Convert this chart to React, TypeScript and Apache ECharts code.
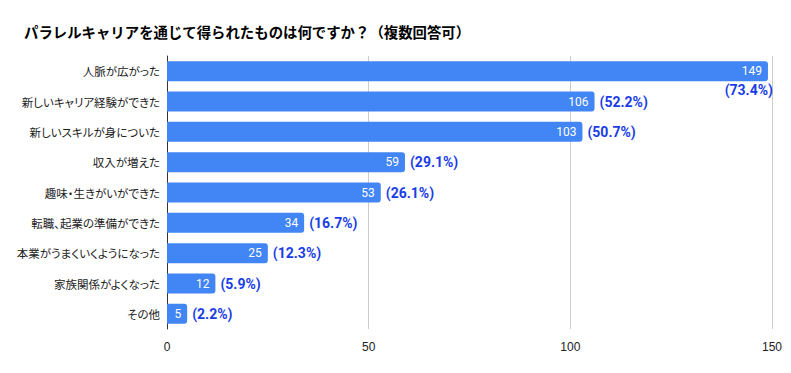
import React, { useEffect, useRef } from "react";
import * as echarts from "echarts";

const TITLE = "パラレルキャリアを通じて得られたものは何ですか？（複数回答可）";
const categories = [
  "人脈が広がった",
  "新しいキャリア経験ができた",
  "新しいスキルが身についた",
  "収入が増えた",
  "趣味・生きがいができた",
  "転職、起業の準備ができた",
  "本業がうまくいくようになった",
  "家族関係がよくなった",
  "その他",
];
const counts = [149, 106, 103, 59, 53, 34, 25, 12, 5];
const percents = ["73.4", "52.2", "50.7", "29.1", "26.1", "16.7", "12.3", "5.9", "2.2"];
const xTicks = [0, 50, 100, 150];

const BAR = "#4285f4";
const PCT = "#1a3de6";
const CAT_FONT = "Noto Sans CJK JP";

export default function App() {
  const ref = useRef<HTMLDivElement>(null);
  useEffect(() => {
    if (!ref.current) return;
    const chart = echarts.init(ref.current, null, { renderer: "svg" });
    const pctData = counts.map((v, i) =>
      i === 0
        ? {
            value: v,
            label: {
              position: ["100%", "100%"],
              align: "right",
              verticalAlign: "top",
              offset: [5, 2],
            },
          }
        : { value: v }
    );
    chart.setOption({
      animation: false,
      title: {
        text: TITLE,
        left: 19,
        top: 19,
        textStyle: {
          fontFamily: "Noto Sans CJK JP",
          fontSize: 14.4,
          fontWeight: "bold",
          color: "#000",
        },
      },
      grid: {
        left: 167,
        right: 19,
        top: 56,
        bottom: 44,
        containLabel: false,
        outerBoundsMode: "none",
      },
      xAxis: {
        type: "value",
        min: xTicks[0],
        max: xTicks[xTicks.length - 1],
        interval: 50,
        axisLine: { show: false },
        axisTick: { show: false },
        splitLine: { lineStyle: { color: "#cccccc", width: 1 } },
        axisLabel: {
          color: "#222",
          fontSize: 12,
          fontFamily: "Liberation Sans, Arial",
          margin: 12,
        },
      },
      yAxis: {
        type: "category",
        inverse: true,
        data: categories,
        axisLine: { show: true, lineStyle: { color: "#333", width: 1 } },
        axisTick: { show: false },
        axisLabel: {
          color: "#222",
          fontSize: 11.5,
          fontFamily: CAT_FONT,
          margin: 7,
        },
      },
      series: [
        {
          type: "bar",
          data: counts,
          barWidth: 20,
          itemStyle: { color: BAR, borderRadius: [0, 3, 3, 0] },
          label: {
            show: true,
            position: "insideRight",
            distance: 6,
            color: "#fff",
            fontSize: 12,
            fontFamily: "Roboto",
          },
          z: 2,
        },
        {
          type: "bar",
          data: pctData,
          barWidth: 20,
          barGap: "-100%",
          itemStyle: { color: "rgba(0,0,0,0)" },
          label: {
            show: true,
            position: "right",
            distance: 5,
            color: PCT,
            fontSize: 14,
            fontWeight: "bold",
            fontFamily: "Roboto",
            formatter: (p: any) => `(${percents[p.dataIndex]}%)`,
          },
          silent: true,
          z: 3,
        },
      ],
    });
    return () => chart.dispose();
  }, []);
  return (
    <>
      <style>{`svg text[style*="11.5px"]{font-feature-settings:"palt" !important;}`}</style>
      <div ref={ref} style={{ width: 791, height: 373, margin: -8 }} />
    </>
  );
}
